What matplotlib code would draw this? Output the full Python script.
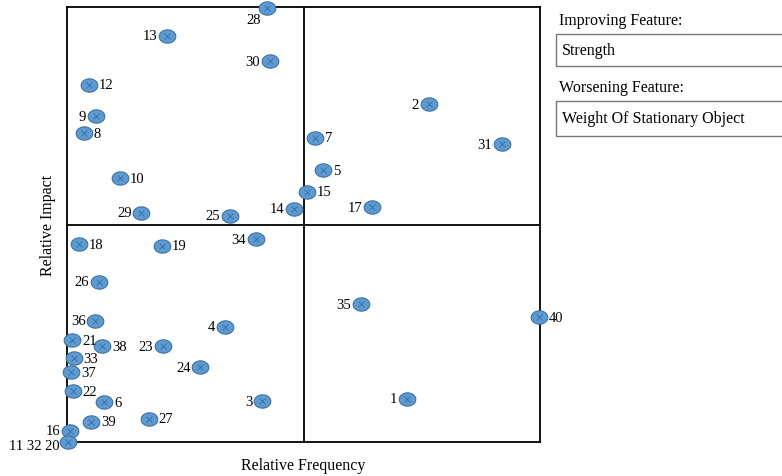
import numpy as np
import matplotlib
matplotlib.use("Agg")
import matplotlib.pyplot as plt
from matplotlib.patches import Rectangle

plt.rcParams["font.family"] = ["Liberation Serif", "DejaVu Serif"]

# points: id label, relative frequency, relative impact, label side
labels = ["28", "13", "30", "12", "9", "8", "10", "29", "25", "14", "15",
          "7", "2", "31", "5", "17",
          "18", "19", "34", "26", "36", "4", "21", "38", "23", "33", "24", "37",
          "22", "6", "39", "27", "16", "11 32 20", "35", "40", "3", "1"]
freq = [0.422, 0.212, 0.429, 0.046, 0.061, 0.036, 0.113, 0.157, 0.345, 0.479, 0.507,
        0.524, 0.765, 0.920, 0.541, 0.645,
        0.025, 0.201, 0.399, 0.067, 0.060, 0.334, 0.011, 0.075, 0.203, 0.014, 0.282, 0.009,
        0.013, 0.079, 0.051, 0.173, 0.007, 0.003, 0.622, 0.998, 0.412, 0.719]
impact = [0.998, 0.934, 0.875, 0.821, 0.749, 0.710, 0.606, 0.527, 0.520, 0.536, 0.575,
          0.699, 0.777, 0.685, 0.625, 0.540,
          0.455, 0.451, 0.466, 0.368, 0.279, 0.265, 0.234, 0.220, 0.220, 0.192, 0.172, 0.160,
          0.117, 0.091, 0.047, 0.054, 0.026, 0.001, 0.317, 0.287, 0.094, 0.099]
side = ["below", "left", "left", "right", "left", "right", "right", "left", "left", "left", "right",
        "right", "left", "left", "right", "left",
        "right", "right", "left", "left", "left", "left", "right", "right", "left", "right", "left", "right",
        "right", "right", "right", "right", "left", "lowleft", "left", "right", "left", "left"]

improving = "Strength"
worsening = "Weight Of Stationary Object"

fig = plt.figure(figsize=(7.82, 4.77), dpi=100)
ax = fig.add_axes([67 / 782, 34 / 477, 473 / 782, 435 / 477])
ax.set_xlim(0, 1)
ax.set_ylim(0, 1)
ax.set_xticks([])
ax.set_yticks([])
for s in ax.spines.values():
    s.set_linewidth(1.3)
ax.axvline(0.5, color="black", lw=1.3)
ax.axhline(0.5, color="black", lw=1.3)

t = np.linspace(0, 2 * np.pi, 40)
ell = np.column_stack([np.cos(t), 0.8 * np.sin(t)])
ax.plot(freq, impact, linestyle="none", marker=ell, markersize=12,
        markerfacecolor="#5b9bd5", markeredgecolor="#41719c", markeredgewidth=0.8,
        clip_on=False, zorder=3)
ax.plot(freq, impact, linestyle="none", marker="x", markersize=5,
        markeredgecolor="#3b5f86", markeredgewidth=0.5, clip_on=False, zorder=4)

for lab, x, y, sd in zip(labels, freq, impact, side):
    if sd == "right":
        ax.annotate(lab, (x, y), xytext=(7, 0), textcoords="offset points",
                    ha="left", va="center", fontsize=10.5)
    elif sd == "left":
        ax.annotate(lab, (x, y), xytext=(-7, 0), textcoords="offset points",
                    ha="right", va="center", fontsize=10.5)
    elif sd == "lowleft":
        ax.annotate(lab, (x, y), xytext=(-6, -3), textcoords="offset points",
                    ha="right", va="center", fontsize=10.5)
    else:
        ax.annotate(lab, (x, y), xytext=(-4, -4), textcoords="offset points",
                    ha="right", va="top", fontsize=10.5)

ax.set_xlabel("Relative Frequency", fontsize=11.5, labelpad=11)
ax.set_ylabel("Relative Impact", fontsize=11.5, labelpad=8)

# side panel
fig.text(559 / 782, 1 - 21 / 477, "Improving Feature:", fontsize=11.5, va="center", ha="left")
fig.add_artist(Rectangle((556 / 782, 1 - 67 / 477), 240 / 782, 32 / 477,
                         transform=fig.transFigure, fill=False, edgecolor="#777777", lw=1))
fig.text(562 / 782, 1 - 51 / 477, improving, fontsize=11.5, va="center", ha="left")
fig.text(559 / 782, 1 - 88 / 477, "Worsening Feature:", fontsize=11.5, va="center", ha="left")
fig.add_artist(Rectangle((556 / 782, 1 - 137 / 477), 240 / 782, 35 / 477,
                         transform=fig.transFigure, fill=False, edgecolor="#777777", lw=1))
fig.text(562 / 782, 1 - 119 / 477, worsening, fontsize=11.5, va="center", ha="left")

fig.savefig("out.png", dpi=100)
